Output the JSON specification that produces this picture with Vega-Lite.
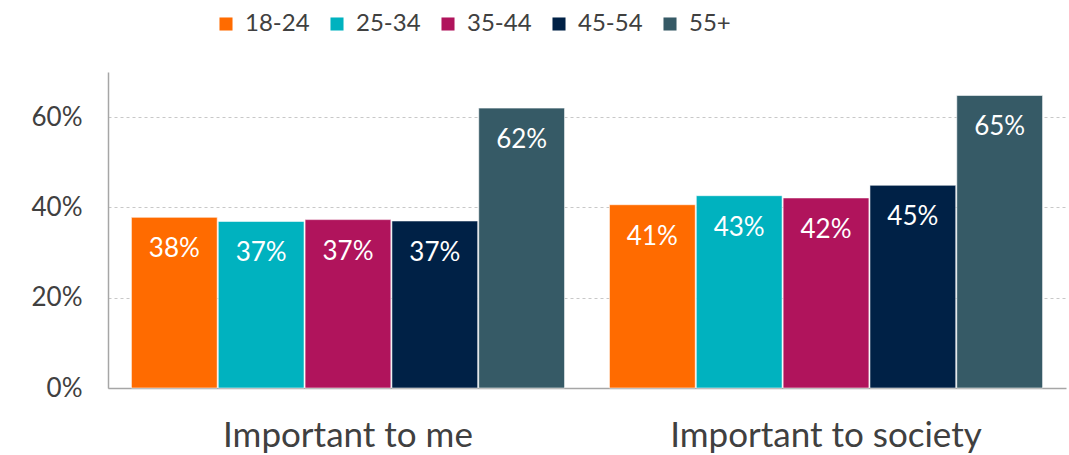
{
  "$schema": "https://vega.github.io/schema/vega-lite/v6.json",
  "width": 958,
  "height": 316,
  "autosize": {"type": "none"},
  "padding": {"left": 108, "top": 72, "right": 3, "bottom": 67},
  "background": "white",
  "config": {
    "view": {"stroke": null},
    "font": "Lato"
  },
  "data": {
    "values": [
      {"category": "Important to me", "age": "18-24", "value": 0.378},
      {"category": "Important to me", "age": "25-34", "value": 0.369},
      {"category": "Important to me", "age": "35-44", "value": 0.373},
      {"category": "Important to me", "age": "45-54", "value": 0.370},
      {"category": "Important to me", "age": "55+", "value": 0.620},
      {"category": "Important to society", "age": "18-24", "value": 0.406},
      {"category": "Important to society", "age": "25-34", "value": 0.426},
      {"category": "Important to society", "age": "35-44", "value": 0.421},
      {"category": "Important to society", "age": "45-54", "value": 0.449},
      {"category": "Important to society", "age": "55+", "value": 0.648}
    ]
  },
  "encoding": {
    "x": {
      "field": "category",
      "type": "nominal",
      "sort": null,
      "scale": {"paddingInner": 0.094, "paddingOuter": 0.049},
      "axis": {
        "title": null,
        "labelAngle": 0,
        "labelFontSize": 35,
        "labelLimit": 0,
        "labelColor": "#404040",
        "labelPadding": 30,
        "ticks": false,
        "domainColor": "#A6A6A6",
        "domainWidth": 1.5
      }
    },
    "xOffset": {
      "field": "age",
      "type": "nominal",
      "sort": null,
      "scale": {"paddingInner": 0.012, "paddingOuter": 0}
    },
    "y": {
      "field": "value",
      "type": "quantitative",
      "scale": {"domain": [0, 0.7], "nice": false},
      "axis": {
        "title": null,
        "format": ".0%",
        "values": [0, 0.2, 0.4, 0.6],
        "labelFontSize": 26,
        "labelColor": "#404040",
        "labelPadding": 26,
        "ticks": false,
        "domainColor": "#A6A6A6",
        "domainWidth": 1.5,
        "gridColor": "#C8C8C8",
        "gridDash": [3, 3],
        "gridWidth": 1
      }
    }
  },
  "layer": [
    {
      "mark": {"type": "bar", "stroke": "#ffffff", "strokeWidth": 0.8, "strokeOpacity": 0.7},
      "encoding": {
        "color": {
          "field": "age",
          "type": "nominal",
          "sort": null,
          "scale": {
            "domain": ["18-24", "25-34", "35-44", "45-54", "55+"],
            "range": ["#FF6B00", "#00B2BF", "#B0145C", "#002146", "#365A66"]
          },
          "legend": {
            "title": null,
            "orient": "none",
            "direction": "horizontal",
            "legendX": 106,
            "legendY": -60,
            "symbolType": "square",
            "symbolSize": 170,
            "symbolStrokeWidth": 0,
            "labelFontSize": 24,
            "labelColor": "#404040",
            "labelOffset": 7,
            "columnPadding": 15
          }
        }
      }
    },
    {
      "mark": {"type": "text", "color": "white", "fontSize": 26, "baseline": "middle", "align": "center", "dy": 32},
      "encoding": {
        "text": {"field": "value", "type": "quantitative", "format": ".0%"}
      }
    }
  ]
}
